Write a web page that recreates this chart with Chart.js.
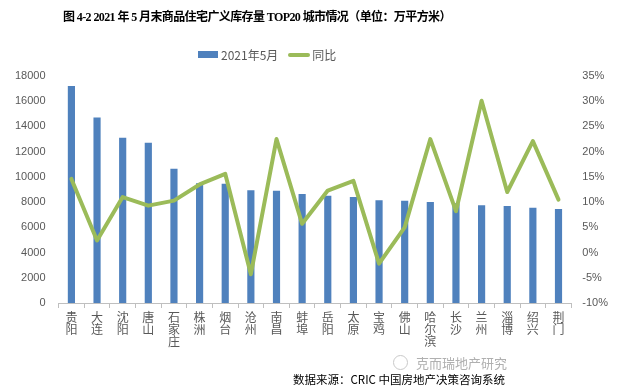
<!DOCTYPE html>
<html>
<head>
<meta charset="utf-8">
<script src="https://cdn.jsdelivr.net/npm/chart.js@4/dist/chart.umd.min.js"></script>
<style>
  body { margin: 0; background: #fff; }
  #wrap { position: relative; width: 633px; height: 392px; font-family: "Noto Sans CJK SC", "Liberation Sans", sans-serif; }
  #title { position: absolute; left: 63px; top: 7px; font-size: 12px; font-weight: bold; color: #000; white-space: nowrap; font-family: "Liberation Serif", "Noto Sans CJK SC", serif; letter-spacing: -0.6px; }
  #legend { position: absolute; top: 44px; left: 198px; font-size: 12px; color: #595959; white-space: nowrap; }
  #legend span { display: inline-block; vertical-align: middle; }
  .box { width: 20px; height: 7px; background: #4F81BD; margin-right: 3px; }
  .ln { width: 22px; height: 4px; border-radius: 2px; background: #9BBB59; margin: 0 2px 0 10px; }
  #mark { position: absolute; left: 393px; top: 353px; font-size: 13px; color: #b0b0b0; white-space: nowrap; }
  #mark i { display: inline-block; width: 13px; height: 13px; border: 1px solid #c8c8c8; border-radius: 50%; vertical-align: -2px; margin-right: 8px; }
  #src { position: absolute; left: 293px; top: 371px; font-size: 11.5px; color: #000; white-space: nowrap; }
</style>
</head>
<body>
<div id="wrap">
  <canvas id="chart" width="633" height="392"></canvas>
  <div id="title">图 4-2 2021 年 5 月末商品住宅广义库存量 TOP20 城市情况（单位：万平方米）</div>
  <div id="legend"><span class="box"></span><span>2021年5月</span><span class="ln"></span><span>同比</span></div>
  <div id="mark"><i></i>克而瑞地产研究</div>
  <div id="src">数据来源：CRIC 中国房地产决策咨询系统</div>
</div>
<script>
"use strict"

// 城市
const cities = ["贵阳", "大连", "沈阳", "唐山", "石家庄", "株洲", "烟台", "沧州", "南昌", "蚌埠",
                "岳阳", "太原", "宝鸡", "佛山", "哈尔滨", "长沙", "兰州", "淄博", "绍兴", "荆门"];

// 2021年5月 库存量（万平方米）
const stock = [17200, 14700, 13100, 12700, 10650, 9500, 9450, 8950, 8900, 8650,
               8500, 8400, 8150, 8100, 8000, 7900, 7750, 7700, 7550, 7450];

// 同比（%）
const yoy = [14.6, 2.4, 11.0, 9.3, 10.3, 13.5, 15.6, -4.3, 22.5, 5.7,
             12.3, 14.2, -2.2, 5.0, 22.5, 8.2, 30.1, 12.0, 22.1, 10.5];

const tickFont = { family: "'Liberation Sans', sans-serif", size: 11 };
const gray = "#595959";

new Chart(document.getElementById("chart"), {
  data: {
    labels: cities.map(c => c.split("")),
    datasets: [
      {
        type: "line",
        label: "同比",
        data: yoy,
        yAxisID: "y1",
        borderColor: "#9BBB59",
        borderWidth: 4,
        borderCapStyle: "round",
        borderJoinStyle: "round",
        pointRadius: 0,
        tension: 0
      },
      {
        type: "bar",
        label: "2021年5月",
        data: stock,
        yAxisID: "y",
        backgroundColor: "#4F81BD",
        barPercentage: 0.28,
        categoryPercentage: 1
      }
    ]
  },
  options: {
    responsive: false,
    animation: false,
    layout: { padding: { top: 76, left: 2, right: 14, bottom: 42 } },
    plugins: { legend: { display: false }, title: { display: false }, tooltip: { enabled: false } },
    scales: {
      x: {
        grid: { drawOnChartArea: false, color: "#bfbfbf", tickLength: 5 },
        border: { color: "#bfbfbf" },
        ticks: {
          autoSkip: false, maxRotation: 0, color: gray, padding: 3,
          font: { family: "'Noto Sans CJK SC', sans-serif", size: 12, lineHeight: 1 }
        }
      },
      y: {
        position: "left",
        min: 0, max: 18000,
        grid: { display: false, drawTicks: false },
        border: { display: false },
        ticks: { stepSize: 2000, color: gray, font: tickFont, padding: 13, callback: v => String(v) }
      },
      y1: {
        position: "right",
        min: -10, max: 35,
        grid: { display: false, drawTicks: false },
        border: { display: false },
        ticks: { stepSize: 5, color: gray, font: tickFont, padding: 11, callback: v => v + "%" }
      }
    }
  }
});
</script>
</body>
</html>
